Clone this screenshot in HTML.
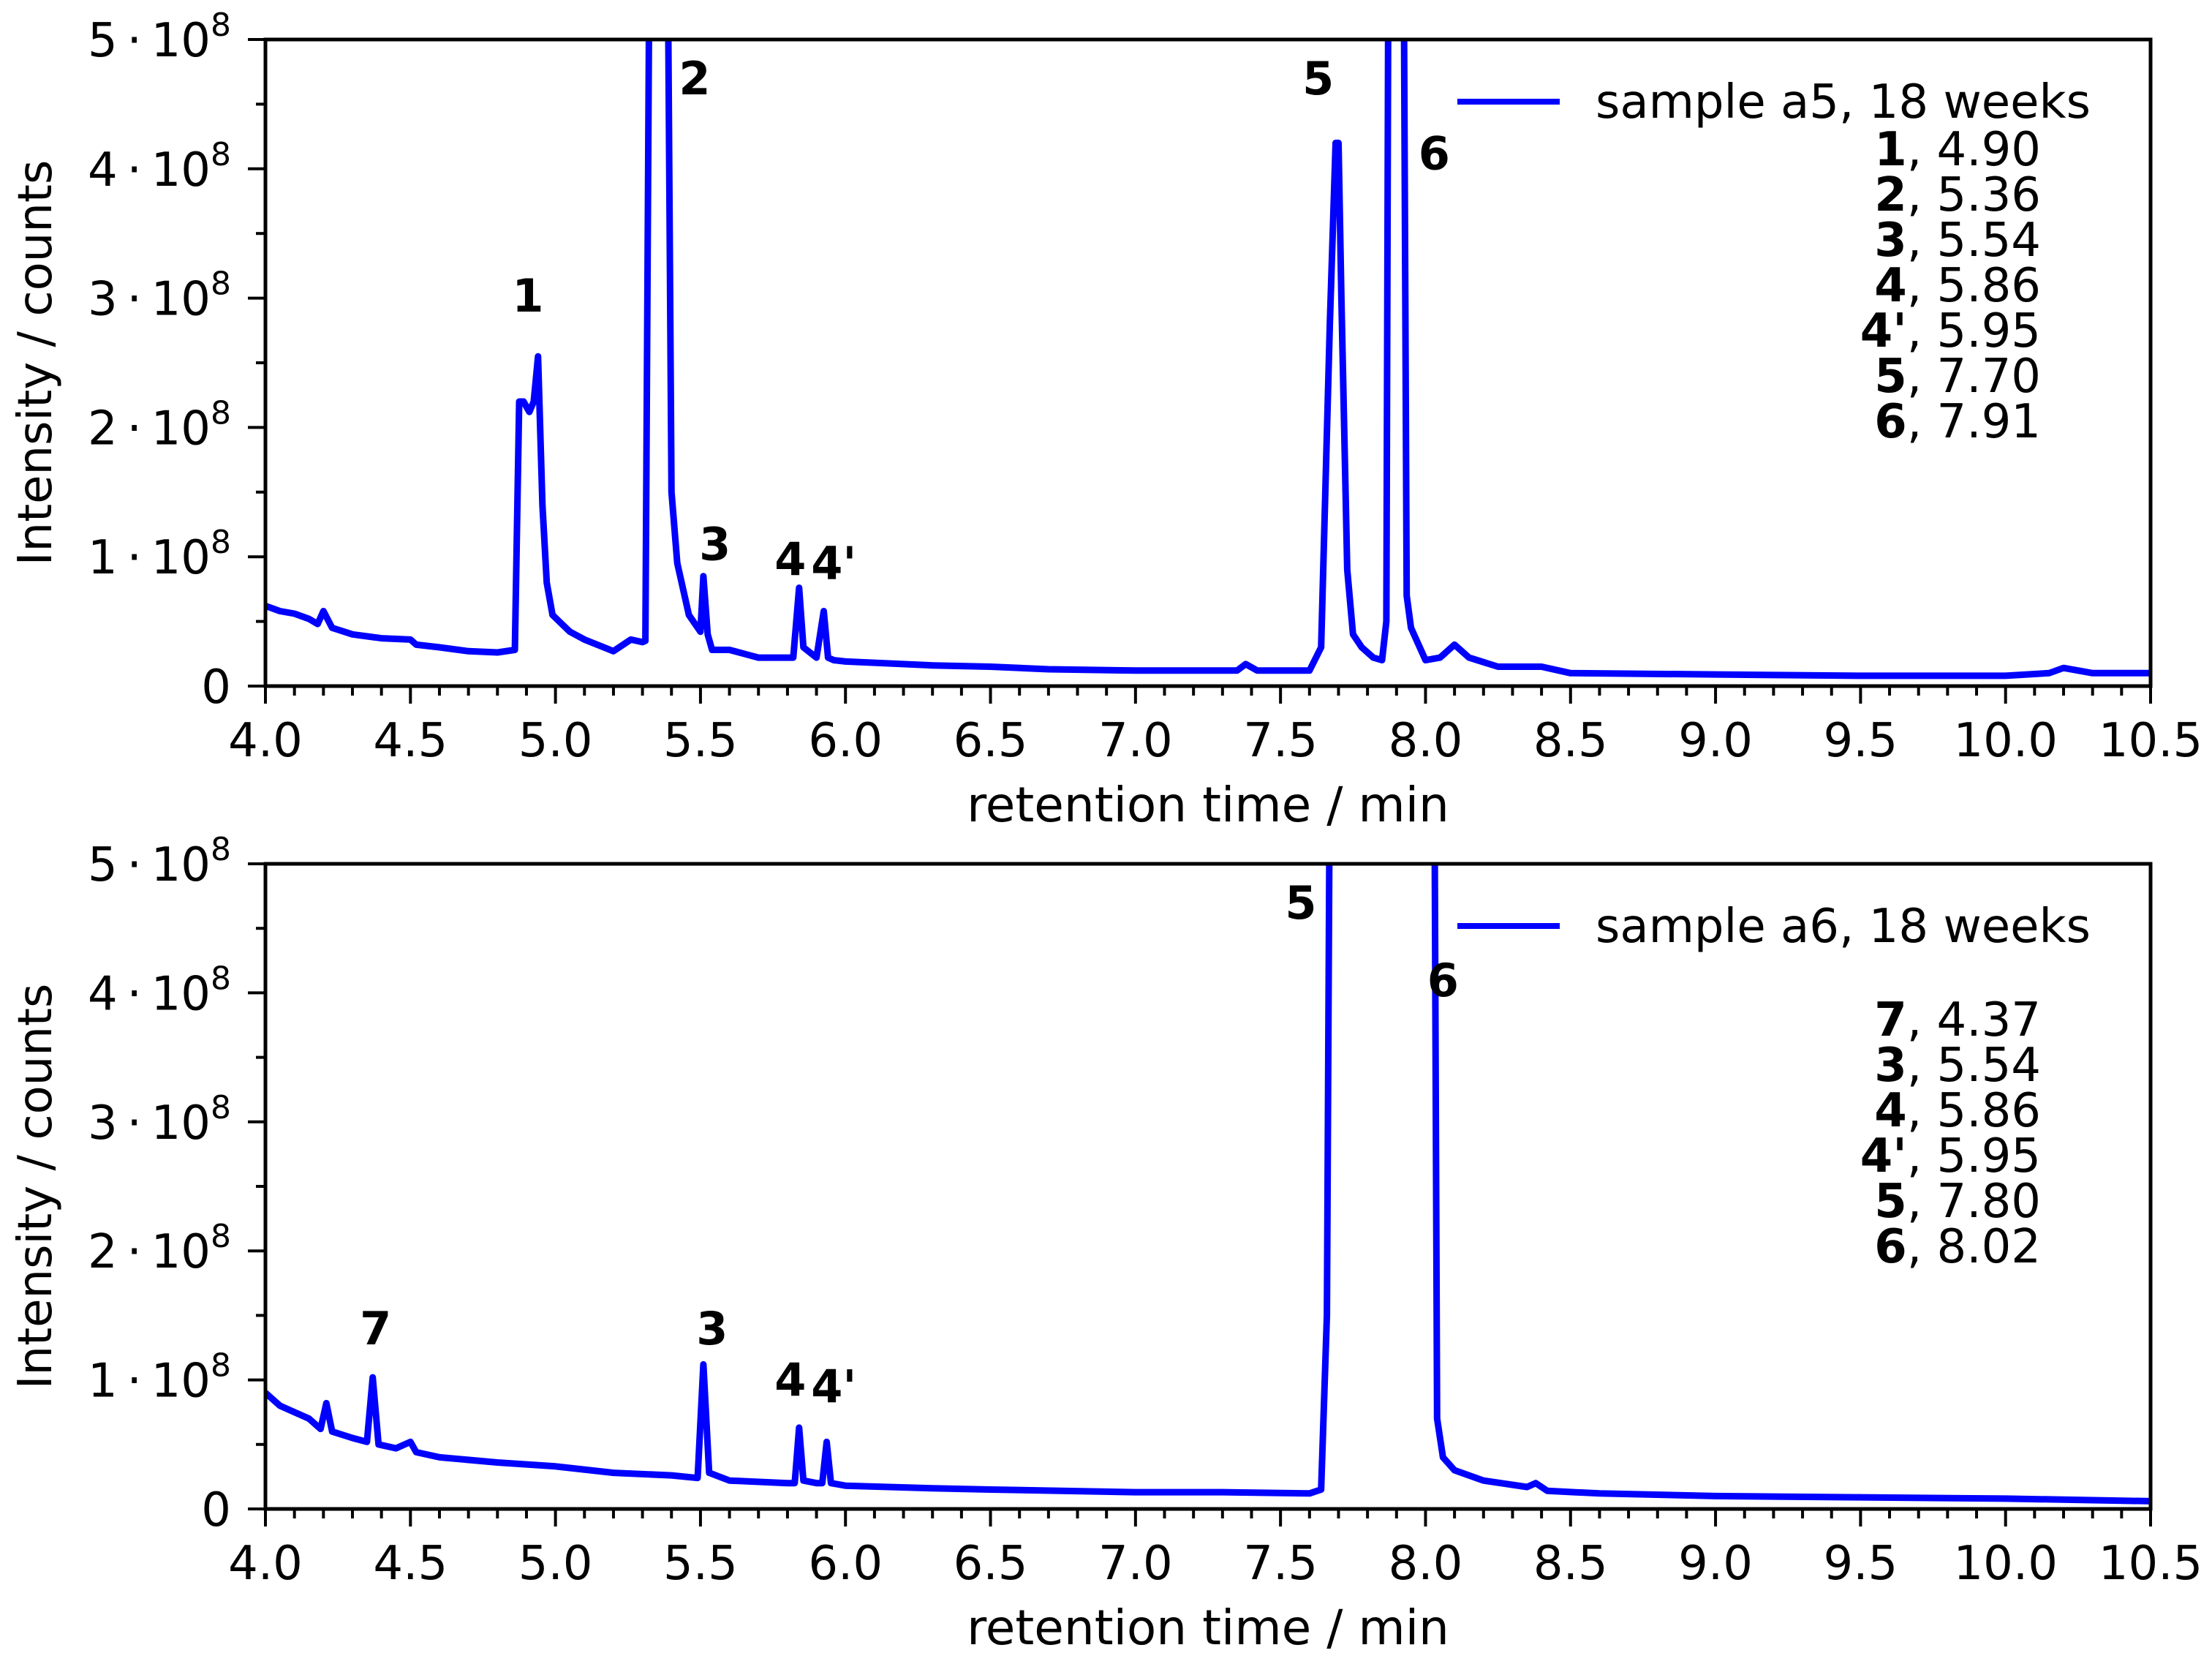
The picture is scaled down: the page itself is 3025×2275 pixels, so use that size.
<!DOCTYPE html>
<html><head><meta charset="utf-8"><style>
html,body{margin:0;padding:0;background:#fff}
svg{display:block}
text{font-family:"DejaVu Sans","Liberation Sans",sans-serif;fill:#000}
.leg{font-family:"DejaVu Sans","Liberation Sans",sans-serif}
</style></head><body>
<svg id="chart" width="3025" height="2275" viewBox="0 0 3025 2275" xmlns="http://www.w3.org/2000/svg">
<defs>
<clipPath id="clipTop"><rect x="363" y="54" width="2578" height="884"/></clipPath>
<clipPath id="clipBot"><rect x="363" y="1181" width="2578" height="882"/></clipPath>
</defs>
<g id="root"></g>
</svg>
<script>
// data in units of 1e8 counts, x in minutes
const a5X = [4.0,4.05,4.1,4.15,4.18,4.2,4.23,4.3,4.4,4.5,4.52,4.6,4.7,4.8,4.86,4.875,4.89,4.91,4.925,4.94,4.955,4.97,4.99,5.05,5.1,5.2,5.26,5.3,5.31,5.33,5.36,5.38,5.40,5.42,5.46,5.50,5.51,5.525,5.54,5.6,5.65,5.7,5.82,5.84,5.855,5.9,5.925,5.94,5.96,6.0,6.3,6.5,6.7,7.0,7.35,7.38,7.42,7.6,7.64,7.67,7.69,7.70,7.71,7.73,7.75,7.78,7.82,7.85,7.865,7.875,7.90,7.92,7.935,7.95,8.0,8.05,8.1,8.15,8.25,8.4,8.5,9.0,9.5,10.0,10.15,10.2,10.3,10.5];
const a5Y = [0.62,0.58,0.56,0.52,0.48,0.58,0.45,0.40,0.37,0.36,0.32,0.30,0.27,0.26,0.28,2.2,2.2,2.12,2.2,2.55,1.4,0.8,0.55,0.42,0.36,0.27,0.36,0.34,0.35,8,9,8,1.5,0.95,0.55,0.42,0.85,0.4,0.28,0.28,0.25,0.22,0.22,0.76,0.3,0.22,0.58,0.22,0.2,0.19,0.16,0.15,0.13,0.12,0.12,0.17,0.12,0.12,0.3,2.8,4.2,4.2,3.0,0.9,0.4,0.3,0.22,0.2,0.5,8,9,8,0.7,0.45,0.2,0.22,0.32,0.22,0.15,0.15,0.1,0.09,0.08,0.08,0.1,0.14,0.1,0.1];
const a6X = [4.0,4.05,4.1,4.15,4.19,4.21,4.23,4.3,4.35,4.37,4.39,4.45,4.5,4.52,4.6,4.8,5.0,5.2,5.4,5.49,5.51,5.53,5.6,5.8,5.825,5.84,5.855,5.9,5.92,5.935,5.95,6.0,6.3,6.5,7.0,7.3,7.6,7.64,7.66,7.675,7.8,8.03,8.04,8.06,8.1,8.2,8.35,8.38,8.42,8.6,9.0,9.5,10.0,10.5];
const a6Y = [0.9,0.8,0.75,0.7,0.62,0.82,0.6,0.55,0.52,1.02,0.5,0.47,0.52,0.44,0.4,0.36,0.33,0.28,0.26,0.24,1.12,0.28,0.22,0.2,0.2,0.63,0.22,0.2,0.2,0.52,0.2,0.18,0.16,0.15,0.13,0.13,0.12,0.15,1.5,8,9,6,0.7,0.4,0.3,0.22,0.17,0.2,0.14,0.12,0.1,0.09,0.08,0.06];
const xTicks = [4.0,4.5,5.0,5.5,6.0,6.5,7.0,7.5,8.0,8.5,9.0,9.5,10.0,10.5];
const yTicks = [0,1,2,3,4,5];
const labelsA5 = [["1",4.90],["2",5.36],["3",5.54],["4",5.86],["4'",5.95],["5",7.70],["6",7.91]];
const labelsA6 = [["7",4.37],["3",5.54],["4",5.86],["4'",5.95],["5",7.80],["6",8.02]];

const NS="http://www.w3.org/2000/svg";
const root=document.getElementById('root');
const X0=363,X1=2941;
function xs(v){return X0+(v-4.0)/(10.5-4.0)*(X1-X0);}
function mk(tag,attrs,parent){const e=document.createElementNS(NS,tag);for(const k in attrs)e.setAttribute(k,attrs[k]);(parent||root).appendChild(e);return e;}

function panel(top,bot,clip,xsData,ysData,legendText,name){
  const g=mk('g',{});
  
  
  const ys=v=>bot-(v/5)*(bot-top);
  let d='';
  for(let i=0;i<xsData.length;i++){d+=(i?'L':'M')+xs(xsData[i]).toFixed(1)+','+ys(ysData[i]).toFixed(1);}
  const p=mk('path',{d:d,fill:'none',stroke:'#0000ff','stroke-width':9,'stroke-linejoin':'round','clip-path':'url(#'+clip+')'},g);
  
  
  const f=mk('rect',{x:X0,y:top,width:X1-X0,height:bot-top,fill:'none',stroke:'#000','stroke-width':5},g);
  
  
  for(let k=0;k<=65;k++){
    const v=4.0+k*0.1, x=xs(v), major=(k%5===0);
    mk('line',{x1:x,x2:x,y1:bot,y2:bot+(major?24:13),stroke:'#000','stroke-width':4},g);
  }
  xTicks.forEach(v=>{
    const t=mk('text',{x:xs(v),y:bot+96,'font-size':64,'text-anchor':'middle'},g);
    t.textContent=v.toFixed(1);
    
    
  });
  for(let k=0;k<=10;k++){
    const v=k*0.5,y=ys(v),major=(k%2===0);
    mk('line',{x1:X0,x2:X0-(major?24:13),y1:y,y2:y,stroke:'#000','stroke-width':4},g);
  }
  yTicks.forEach(v=>{
    const t=mk('text',{x:316,y:ys(v)+23,'font-size':64,'text-anchor':'end'},g);
    
    
    if(v===0){t.textContent='0';}
    else{
      const a=mk('tspan',{},t);a.textContent=v+'\u2009\u00B7\u200910';
      const s=mk('tspan',{dy:-28,'font-size':44},t);s.textContent='8';
    }
  });
  const xt=mk('text',{x:(X0+X1)/2,y:bot+185,'font-size':66,'text-anchor':'middle'},g);
  xt.textContent='retention time / min';
  
  
  const cy=(top+bot)/2;
  const yt=mk('text',{x:70,y:cy,'font-size':64,'text-anchor':'middle',transform:'rotate(-90 70 '+cy+')'},g);
  yt.textContent='Intensity / counts';
  
  
  const ly=top+85;
  const ll=mk('line',{x1:1993,x2:2133,y1:ly,y2:ly,stroke:'#0000ff','stroke-width':8},g);
  
  
  const lt=mk('text',{x:2182,y:ly+22,'font-size':64,'class':'leg'},g);
  lt.textContent=legendText;
  
  
  return {g,ys};
}

const P1=panel(54,938,'clipTop',a5X,a5Y,'sample a5, 18 weeks','panel-a5');
const P2=panel(1181,2063,'clipBot',a6X,a6Y,'sample a6, 18 weeks','panel-a6');

function retList(g,items,startY){
  items.forEach((it,i)=>{
    const t=mk('text',{x:2791,y:startY+i*62,'font-size':64,'text-anchor':'end','class':'leg'},g);
    const b=mk('tspan',{'font-weight':'bold'},t);b.textContent=it[0];
    const r=mk('tspan',{},t);r.textContent=', '+it[1].toFixed(2);
    
    
  });
}
retList(P1.g,labelsA5,226);
retList(P2.g,labelsA6,1416);

const peakA5 = [["1",4.905,3.02],["2",5.48,4.7],["3",5.55,1.1],["4",5.81,0.98],["4'",5.96,0.95],["5",7.63,4.7],["6",8.03,4.12]];
const peakA6 = [["5",7.57,4.7],["6",8.06,4.1],["7",4.38,1.4],["3",5.54,1.4],["4",5.81,1.0],["4'",5.96,0.95]];
function peaks(P,arr){
  arr.forEach(p=>{
    const t=mk('text',{x:xs(p[1]),y:P.ys(p[2])+22,'font-size':62,'font-weight':'bold','text-anchor':'middle'},P.g);
    t.textContent=p[0];
    
    
  });
}
peaks(P1,peakA5);
peaks(P2,peakA6);
</script>
</body></html>
